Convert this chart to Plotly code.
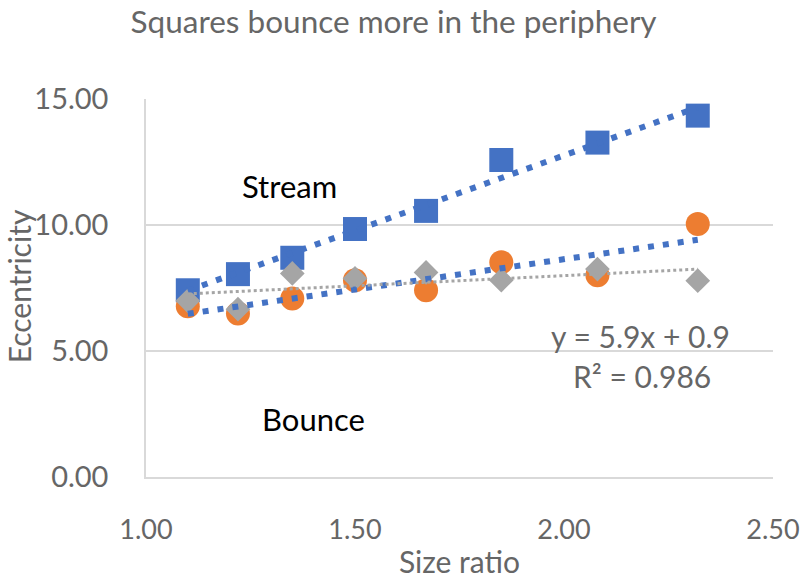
import numpy as np
import plotly.graph_objects as go

# Data
size_ratio = [1.10, 1.22, 1.35, 1.50, 1.67, 1.85, 2.08, 2.32]
squares = [7.41, 8.05, 8.70, 9.84, 10.56, 12.58, 13.27, 14.34]
circles = [6.78, 6.49, 7.08, 7.81, 7.41, 8.52, 8.01, 10.04]
diamonds = [6.99, 6.66, 8.08, 7.88, 8.12, 7.81, 8.25, 7.79]

x_ticks = [1.0, 1.5, 2.0, 2.5]
y_ticks = [0, 5, 10, 15]

BLUE = "#4472C4"
ORANGE = "#ED7D31"
GREY = "#A5A5A5"
TXT = "#666666"
FONT = "Lato"

fig = go.Figure()

fig.add_trace(go.Scatter(x=size_ratio, y=squares, mode="markers",
                         marker=dict(symbol="square", size=24, color=BLUE),
                         name="Squares"))
fig.add_trace(go.Scatter(x=size_ratio, y=circles, mode="markers",
                         marker=dict(symbol="circle", size=24, color=ORANGE),
                         name="Circles"))
fig.add_trace(go.Scatter(x=size_ratio, y=diamonds, mode="markers",
                         marker=dict(symbol="diamond", size=19, color=GREY),
                         name="Diamonds"))

xs = np.array([min(size_ratio), max(size_ratio)])


def trend(vals):
    m, b = np.polyfit(size_ratio, vals, 1)
    return m * xs + b


fig.add_trace(go.Scatter(x=xs, y=trend(squares), mode="lines",
                         line=dict(color=BLUE, width=6, dash="6px,9px"),
                         hoverinfo="skip"))
fig.add_trace(go.Scatter(x=xs, y=trend(circles), mode="lines",
                         line=dict(color=BLUE, width=6, dash="6px,9px"),
                         hoverinfo="skip"))
fig.add_trace(go.Scatter(x=xs, y=trend(diamonds), mode="lines",
                         line=dict(color=GREY, width=3, dash="3px,3px"),
                         hoverinfo="skip"))

annos = [
    dict(x=1.343, y=11.54, text="Stream", font=dict(size=31, color="#000000", family=FONT)),
    dict(x=1.40, y=2.29, text="Bounce", font=dict(size=31, color="#000000", family=FONT)),
    dict(x=2.184, y=5.59, text="y = 5.9x + 0.9", font=dict(size=30, color=TXT, family=FONT)),
    dict(x=2.187, y=4.0, text="R² = 0.986", font=dict(size=30, color=TXT, family=FONT)),
]
for a in annos:
    fig.add_annotation(xref="x", yref="y", showarrow=False, xanchor="center",
                       yanchor="middle", **a)

# y-axis title placed precisely
fig.add_annotation(xref="paper", yref="paper", x=-0.203, y=0.5036,
                   text="Eccentricity", textangle=-90, showarrow=False,
                   xanchor="center", yanchor="middle", borderpad=0,
                   font=dict(size=30, color=TXT, family=FONT))

fig.update_layout(
    width=800, height=579,
    margin=dict(l=146, r=27, t=99, b=102, autoexpand=False),
    paper_bgcolor="white", plot_bgcolor="white",
    showlegend=False,
    font=dict(family=FONT, color=TXT),
    title=dict(text="Squares bounce more in the periphery", x=0.492, xanchor="center",
               yref="container", y=0.962, yanchor="middle",
               font=dict(size=31.5, color=TXT, family=FONT)),
)
fig.update_xaxes(range=[1.0, 2.5], tickvals=x_ticks,
                 ticktext=[f"{v:.2f}" for v in x_ticks],
                 showgrid=False, zeroline=False, showline=True,
                 linecolor="#D9D9D9", linewidth=1.5, automargin=False,
                 ticks="", ticklabelstandoff=28, ticklabeloverflow="allow",
                 tickfont=dict(size=27, color=TXT, family=FONT),
                 title=dict(text="Size ratio", standoff=22,
                            font=dict(size=30, color=TXT, family=FONT)))
fig.update_yaxes(range=[0, 15], tickvals=y_ticks,
                 ticktext=[f"{v:.2f}" for v in y_ticks],
                 showgrid=True, gridcolor="#D9D9D9", gridwidth=1.5,
                 zeroline=False, showline=True, automargin=False,
                 linecolor="#D9D9D9", linewidth=1.5,
                 ticks="", ticklabelstandoff=30,
                 tickfont=dict(size=29, color=TXT, family=FONT))

fig.write_html("out.html")
